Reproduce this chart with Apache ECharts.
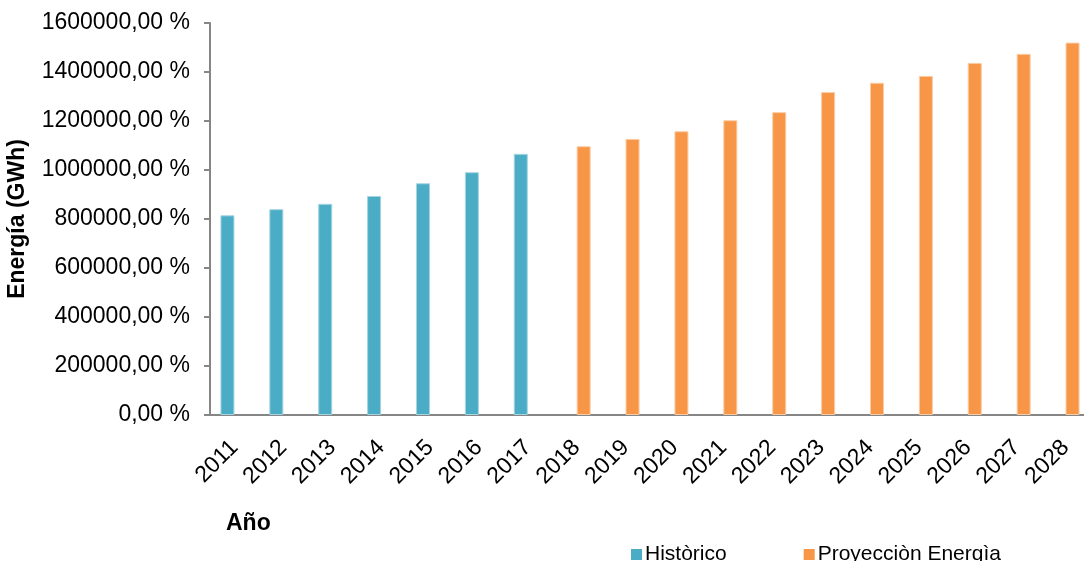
<!DOCTYPE html>
<html>
<head>
<meta charset="utf-8">
<script src="https://cdn.jsdelivr.net/npm/echarts@6/dist/echarts.min.js"></script>
<style>
  html, body { margin: 0; padding: 0; background: #fff; }
  #main { width: 1084px; height: 561px; }
</style>
</head>
<body>
<div id="main"></div>
<script>
// años del eje x
var years = ['2011', '2012', '2013', '2014', '2015', '2016', '2017', '2018', '2019',
  '2020', '2021', '2022', '2023', '2024', '2025', '2026', '2027', '2028'];
// energia historica 2011-2017 (GWh), null en la proyeccion
var historico = [815000, 840000, 862000, 894000, 946000, 991000, 1066000,
  null, null, null, null, null, null, null, null, null, null, null];
// proyeccion 2018-2028
var proyeccion = [null, null, null, null, null, null, null,
  1097000, 1127000, 1158000, 1203000, 1236000, 1318000, 1356000, 1384000, 1437000, 1474000, 1520000];

var myChart = echarts.init(document.getElementById('main'));

var font = 'Liberation Sans, Arial, sans-serif';

var option = {
  animation: false,
  textStyle: { fontFamily: font },
  grid: { left: 210, right: -6, top: 23, bottom: 146, outerBoundsMode: 'none', containLabel: false },
  legend: {
    left: 626,
    top: 539,
    itemWidth: 11,
    itemHeight: 11,
    itemGap: 77,
    icon: 'rect',
    itemStyle: { borderWidth: 0 },
    textStyle: { fontSize: 21, color: '#000', fontFamily: font, padding: [0, 0, 0, -2] },
    data: ['Històrico', 'Proyecciòn Energìa']
  },
  xAxis: {
    type: 'category',
    data: years,
    axisLine: { lineStyle: { color: '#868686', width: 2 } },
    axisTick: { length: 7, lineStyle: { color: '#868686', width: 2 } },
    axisLabel: { rotate: 45, fontSize: 23, color: '#000', margin: 29, interval: 0 }
  },
  yAxis: {
    type: 'value',
    min: 0,
    max: 1600000,
    interval: 200000,
    name: 'Energía (GWh)',
    nameLocation: 'middle',
    nameGap: 181,
    nameTextStyle: { fontSize: 23, fontWeight: 'bold', color: '#000' },
    splitLine: { show: false },
    axisLine: { show: true, lineStyle: { color: '#868686', width: 2 } },
    axisTick: { show: true, length: 6, lineStyle: { color: '#868686', width: 2 } },
    axisLabel: {
      fontSize: 23,
      color: '#000',
      margin: 20,
      formatter: function (v) { return v.toFixed(2).replace('.', ',') + ' %'; }
    }
  },
  graphic: [
    {
      type: 'text',
      left: 226,
      top: 512,
      style: { text: 'Año', fontSize: 23, fontWeight: 'bold', fill: '#000', fontFamily: font }
    }
  ],
  series: [
    {
      name: 'Històrico',
      type: 'bar',
      data: historico,
      barWidth: 14,
      barGap: '0%',
      itemStyle: { color: '#4BACC6', borderColor: '#A5D5E2', borderWidth: 1 }
    },
    {
      name: 'Proyecciòn Energìa',
      type: 'bar',
      data: proyeccion,
      barWidth: 14,
      barGap: '0%',
      itemStyle: { color: '#F79646', borderColor: '#FBCBA3', borderWidth: 1 }
    }
  ]
};

myChart.setOption(option);
</script>
</body>
</html>
